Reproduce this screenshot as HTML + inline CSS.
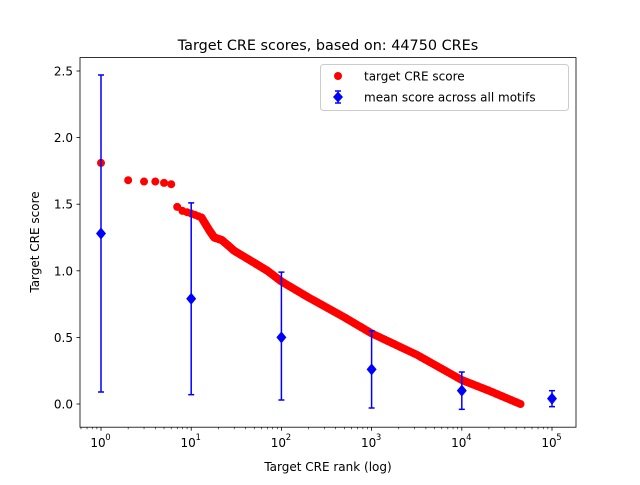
<!DOCTYPE html>
<html><head><style>
body{margin:0;background:#fff}
svg text{font-family:"DejaVu Sans","Liberation Sans",sans-serif}
</style></head><body>
<svg id="s" width="640" height="480" xmlns="http://www.w3.org/2000/svg">
<rect width="640" height="480" fill="#fff"/>
<g id="red"></g>
<g id="eb" stroke="#0000ff" stroke-width="1.5" fill="none"></g>
<g id="dm" fill="#0000ff"></g>
<rect x="80" y="57.6" width="496" height="369.6" fill="none" stroke="#000" stroke-width="0.8"/>
<g id="ax" font-size="12" fill="#000"></g>
<text x="328" y="50" font-size="14.4" text-anchor="middle">Target CRE scores, based on: 44750 CREs</text>
<text x="328" y="471" font-size="12" text-anchor="middle">Target CRE rank (log)</text>
<text transform="translate(39,242) rotate(-90)" font-size="12" text-anchor="middle">Target CRE score</text>
<rect x="320.5" y="64.5" width="248" height="46" rx="3" fill="#fff" stroke="#ccc" stroke-width="1"/>
<circle cx="338" cy="76" r="4" fill="#ff0000"/>
<text x="364" y="80.5" font-size="12">target CRE score</text>
<line x1="338" y1="91" x2="338" y2="103" stroke="#0000ff" stroke-width="1.5"/>
<line x1="335" y1="91" x2="341" y2="91" stroke="#0000ff" stroke-width="1.5"/>
<line x1="335" y1="103" x2="341" y2="103" stroke="#0000ff" stroke-width="1.5"/>
<polygon points="338,91.5 343,97 338,102.5 333,97" fill="#0000ff"/>
<text x="364" y="101.5" font-size="12">mean score across all motifs</text>
</svg>
<script>
var NS="http://www.w3.org/2000/svg";
function X(r){return 101+90.2*Math.log10(r);}
function Y(v){return 404-133.2*v;}
function el(p,t,a){var e=document.createElementNS(NS,t);for(var k in a)e.setAttribute(k,a[k]);document.getElementById(p).appendChild(e);return e;}
var red=[[1,1.81],[2,1.68],[3,1.67],[4,1.67],[5,1.66],[6,1.65],[7,1.48],[8,1.45],[9,1.44],[10,1.43],[11,1.42],[12,1.41],[13,1.40]];
red.forEach(function(p){el("red","circle",{cx:X(p[0]),cy:Y(p[1]),r:4,fill:"#ff0000"});});
var k=[[1.114,1.40],[1.204,1.30],[1.255,1.25],[1.342,1.23],[1.477,1.15],[1.699,1.06],[1.845,1.0],[2,0.92],[2.3,0.8],[2.7,0.65],[3,0.53],[3.5,0.37],[4,0.18],[4.3,0.10],[4.65,0.0]];
for(var i=0;i<k.length-1;i++){for(var t=0;t<1;t+=0.05){var l=k[i][0]+(k[i+1][0]-k[i][0])*t,v=k[i][1]+(k[i+1][1]-k[i][1])*t;el("red","circle",{cx:X(Math.pow(10,l)),cy:Y(v),r:4,fill:"#ff0000"});}}
el("red","circle",{cx:X(44750),cy:Y(0),r:4,fill:"#ff0000"});
var eb=[[1,1.28,0.09,2.47],[10,0.79,0.07,1.51],[100,0.50,0.03,0.99],[1000,0.26,-0.03,0.55],[10000,0.10,-0.04,0.24],[100000,0.04,-0.02,0.10]];
eb.forEach(function(e){var x=X(e[0]);el("eb","line",{x1:x,x2:x,y1:Y(e[2]),y2:Y(e[3])});el("eb","line",{x1:x-3,x2:x+3,y1:Y(e[2]),y2:Y(e[2])});el("eb","line",{x1:x-3,x2:x+3,y1:Y(e[3]),y2:Y(e[3])});
var y=Y(e[1]);el("dm","polygon",{points:x+","+(y-6)+" "+(x+5)+","+y+" "+x+","+(y+6)+" "+(x-5)+","+y});});
for(var d=0;d<=5;d++){var x=X(Math.pow(10,d));el("ax","line",{x1:x,x2:x,y1:427.2,y2:430.7,stroke:"#000","stroke-width":0.8});
var t=el("ax","text",{x:x-3,y:447,"text-anchor":"middle"});t.textContent="10";var s=el("ax","text",{x:x+7,y:440,"font-size":8.5,"text-anchor":"middle"});s.textContent=d;
if(d<5)for(var m=2;m<10;m++){var xm=X(m*Math.pow(10,d));el("ax","line",{x1:xm,x2:xm,y1:427.2,y2:429.2,stroke:"#000","stroke-width":0.6});}}
for(var m=2;m<10;m++){var xm=X(m*0.1);if(xm>80)el("ax","line",{x1:xm,x2:xm,y1:427.2,y2:429.2,stroke:"#000","stroke-width":0.6});}
["0.0","0.5","1.0","1.5","2.0","2.5"].forEach(function(s,i){var y=Y(i*0.5);el("ax","line",{x1:76.5,x2:80,y1:y,y2:y,stroke:"#000","stroke-width":0.8});var t=el("ax","text",{x:73,y:y+4.5,"text-anchor":"end"});t.textContent=s;});
</script>
</body></html>
